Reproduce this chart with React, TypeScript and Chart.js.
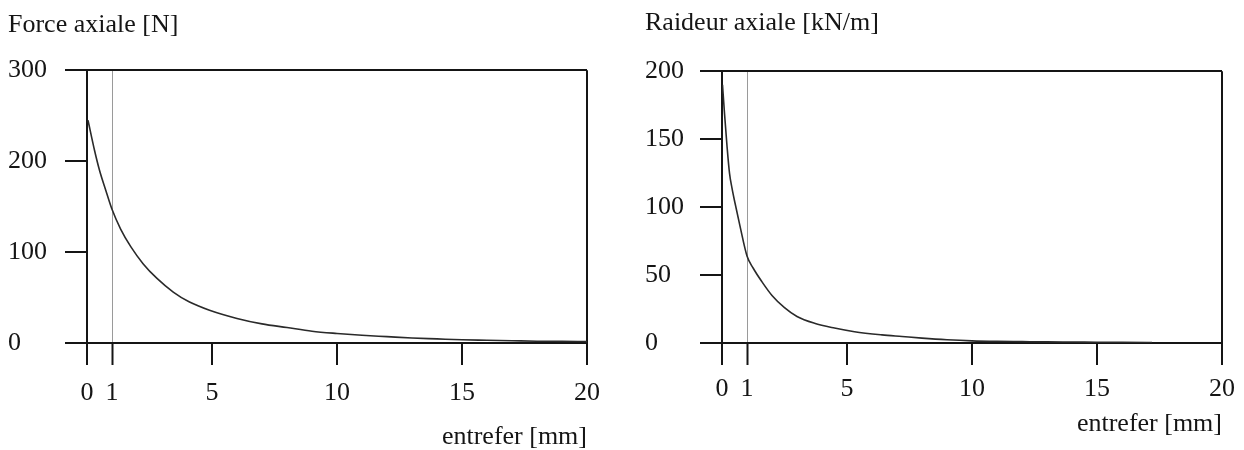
import React, { useEffect, useRef } from "react";
import { Chart, registerables } from "chart.js";

Chart.register(...registerables);

// ---- Data ----
const xTicks = [0, 1, 5, 10, 15, 20];

const forceGap = [0.04, 0.3, 0.5, 0.75, 1, 1.35, 1.75, 2.25, 2.8, 3.45, 4.1, 4.9, 6, 7, 8, 9, 10, 11, 12, 13, 14, 15, 16, 17, 18, 19, 20];
const forceValues = [245, 212, 190, 168, 147, 125, 106, 87, 71, 56, 45, 36, 27, 21, 17, 13, 10.5, 8.5, 7, 5.5, 4.5, 3.5, 3, 2.5, 2, 1.8, 1.5];
const forceYTicks = [0, 100, 200, 300];

const stiffGap = [0.02, 0.1, 0.2, 0.3, 0.4, 0.52, 0.72, 1, 1.25, 1.6, 2, 2.5, 3, 3.7, 4.5, 5.3, 6.4, 7.2, 8, 9, 10, 11, 12, 13, 14, 15, 16, 17.2];
const stiffValues = [190, 169, 145, 125, 114, 103, 86, 64, 55, 45, 35, 26, 19.5, 14.5, 11, 8.3, 6, 4.8, 3.6, 2.4, 1.6, 1.2, 1, 0.8, 0.7, 0.6, 0.5, 0.4];
const stiffYTicks = [0, 50, 100, 150, 200];

const FONT = "'Liberation Serif', 'Times New Roman', serif";
const INK = "#151515";

type Spec = {
  title: string;
  xs: number[];
  ys: number[];
  yTicks: number[];
  padLeft: number;
  padRight: number;
  yWidth: number;
  titleTop: number;
  titleBottom: number;
  xTickPad: number;
  xTitleBottom: number;
};

function makeConfig(s: Spec): any {
  const yMax = s.yTicks[s.yTicks.length - 1];
  return {
    type: "line",
    data: {
      datasets: [
        {
          data: s.xs.map((x, i) => ({ x, y: s.ys[i] })),
          borderColor: "#2a2a2a",
          borderWidth: 1.6,
          pointRadius: 0,
          cubicInterpolationMode: "monotone",
          fill: false,
        },
      ],
    },
    options: {
      animation: false,
      responsive: false,
      events: [],
      layout: { padding: { left: s.padLeft, right: s.padRight, top: 0, bottom: 0 } },
      plugins: {
        legend: { display: false },
        tooltip: { enabled: false },
        title: {
          display: true,
          text: s.title,
          align: "start",
          color: INK,
          font: { family: FONT, size: 26, weight: "normal", lineHeight: 1.2 },
          padding: { top: s.titleTop, bottom: s.titleBottom },
        },
      },
      scales: {
        x: {
          type: "linear",
          min: 0,
          max: 20,
          afterBuildTicks: (scale: any) => {
            scale.ticks = xTicks.map((v) => ({ value: v }));
          },
          afterFit: (scale: any) => {
            scale.height = 450 - 343;
          },
          border: { display: true, color: INK, width: 2 },
          grid: {
            drawOnChartArea: true,
            color: (ctx: any) => {
              const v = ctx.tick && ctx.tick.value;
              if (v === 1) return "#9a9a9a";
              if (v === 20) return INK;
              return "rgba(0,0,0,0)";
            },
            lineWidth: (ctx: any) => (ctx.tick && ctx.tick.value === 1 ? 1 : 2),
            tickColor: INK,
            tickWidth: 2,
            tickLength: 22,
          },
          ticks: {
            autoSkip: false,
            maxRotation: 0,
            padding: s.xTickPad,
            color: INK,
            font: { family: FONT, size: 26, lineHeight: 1.2 },
          },
          title: {
            display: true,
            text: "entrefer [mm]",
            align: "end",
            color: INK,
            font: { family: FONT, size: 26, lineHeight: 1 },
            padding: { top: 0, bottom: s.xTitleBottom },
          },
        },
        y: {
          type: "linear",
          min: 0,
          max: yMax,
          afterBuildTicks: (scale: any) => {
            scale.ticks = s.yTicks.map((v) => ({ value: v }));
          },
          afterFit: (scale: any) => {
            scale.width = s.yWidth;
          },
          border: { display: true, color: INK, width: 2 },
          grid: {
            drawOnChartArea: true,
            color: (ctx: any) => {
              const v = ctx.tick && ctx.tick.value;
              return v === yMax || v === 0 ? INK : "rgba(0,0,0,0)";
            },
            lineWidth: 2,
            tickColor: INK,
            tickWidth: 2,
            tickLength: 22,
          },
          ticks: {
            crossAlign: "far",
            color: INK,
            font: { family: FONT, size: 26, lineHeight: 1.2 },
          },
        },
      },
    },
  };
}

function Panel(props: { spec: Spec; left: number }) {
  const ref = useRef<HTMLCanvasElement | null>(null);
  useEffect(() => {
    if (!ref.current) return;
    const chart = new Chart(ref.current, makeConfig(props.spec));
    return () => chart.destroy();
  }, []);
  return (
    <canvas
      ref={ref}
      width={622}
      height={450}
      style={{ position: "absolute", left: props.left, top: 0, width: 622, height: 450 }}
    />
  );
}

const forceSpec: Spec = {
  title: "Force axiale [N]",
  xs: forceGap,
  ys: forceValues,
  yTicks: forceYTicks,
  padLeft: 8,
  padRight: 35,
  yWidth: 79,
  titleTop: 10,
  titleBottom: 29,
  xTickPad: 13,
  xTitleBottom: 0,
};

const stiffSpec: Spec = {
  title: "Raideur axiale [kN/m]",
  xs: stiffGap,
  ys: stiffValues,
  yTicks: stiffYTicks,
  padLeft: 23,
  padRight: 22,
  yWidth: 77,
  titleTop: 8,
  titleBottom: 32,
  xTickPad: 9,
  xTitleBottom: 13,
};

export default function App() {
  return (
    <div
      style={{
        position: "absolute",
        left: 0,
        top: 0,
        width: 1244,
        height: 450,
        background: "#ffffff",
        overflow: "hidden",
      }}
    >
      <Panel spec={forceSpec} left={0} />
      <Panel spec={stiffSpec} left={622} />
    </div>
  );
}
